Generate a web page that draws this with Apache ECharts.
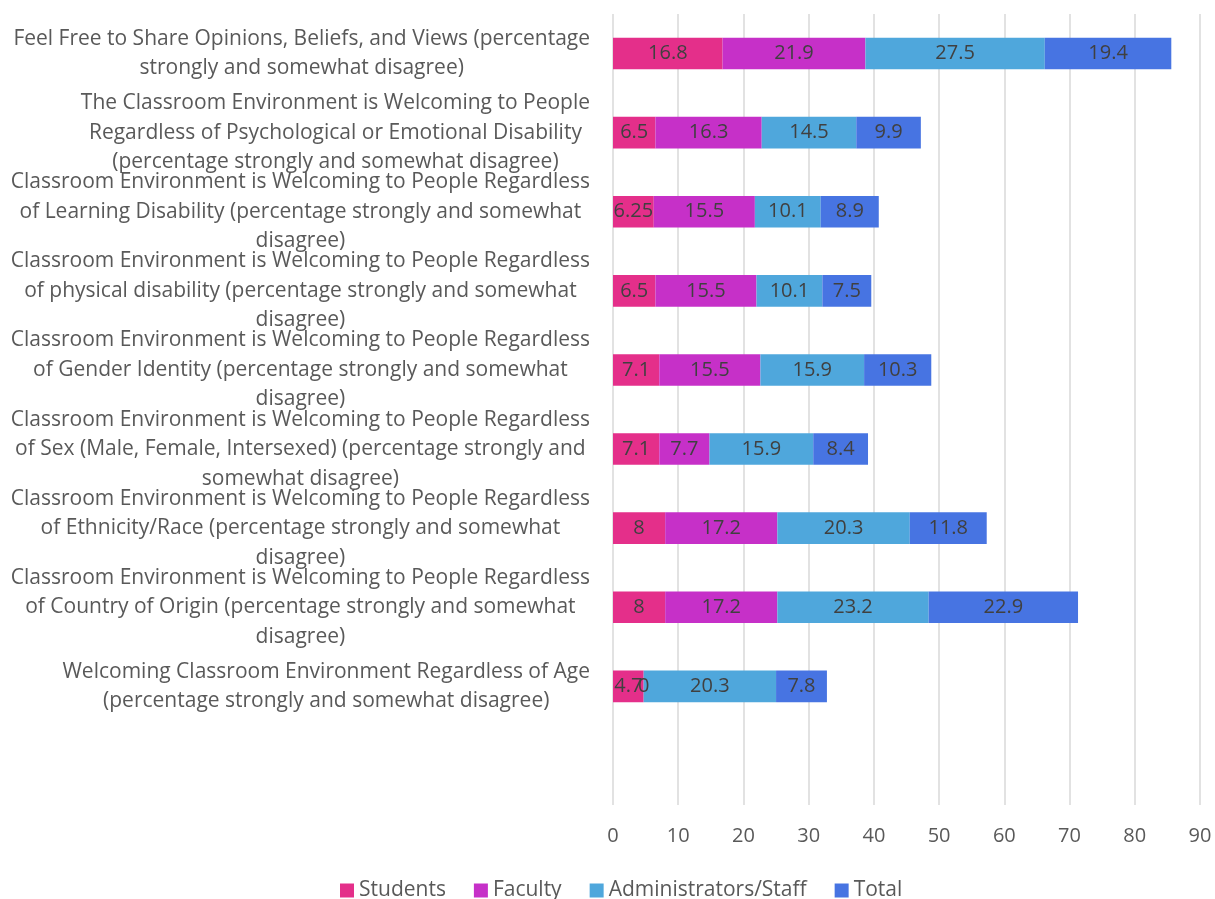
<!DOCTYPE html>
<html>
<head>
<meta charset="utf-8">
<style>
  html, body { margin: 0; padding: 0; background: #ffffff; }
  #chart { width: 1215px; height: 899px; }
</style>
<script src="https://cdn.jsdelivr.net/npm/echarts@6/dist/echarts.min.js"></script>
</head>
<body>
<div id="chart"></div>
<script>
// Survey items, listed top to bottom (last entry is an empty slot at the bottom of the axis)
const categories = [
  'Feel Free to Share Opinions, Beliefs, and Views (percentage\nstrongly and somewhat disagree)',
  'The Classroom Environment is Welcoming to People\nRegardless of Psychological or Emotional Disability\n(percentage strongly and somewhat disagree)',
  'Classroom Environment is Welcoming to People Regardless\nof Learning Disability (percentage strongly and somewhat\ndisagree)',
  'Classroom Environment is Welcoming to People Regardless\nof physical disability (percentage strongly and somewhat\ndisagree)',
  'Classroom Environment is Welcoming to People Regardless\nof Gender Identity (percentage strongly and somewhat\ndisagree)',
  'Classroom Environment is Welcoming to People Regardless\nof Sex (Male, Female, Intersexed) (percentage strongly and\nsomewhat disagree)',
  'Classroom Environment is Welcoming to People Regardless\nof Ethnicity/Race (percentage strongly and somewhat\ndisagree)',
  'Classroom Environment is Welcoming to People Regardless\nof Country of Origin (percentage strongly and somewhat\ndisagree)',
  'Welcoming Classroom Environment Regardless of Age\n(percentage strongly and somewhat disagree)',
  ''
];

const students = [16.8, 6.5, 6.25, 6.5, 7.1, 7.1, 8, 8, 4.7, null];
const faculty  = [21.9, 16.3, 15.5, 15.5, 15.5, 7.7, 17.2, 17.2, 0, null];
const admins   = [27.5, 14.5, 10.1, 10.1, 15.9, 15.9, 20.3, 23.2, 20.3, null];
const totals   = [19.4, 9.9, 8.9, 7.5, 10.3, 8.4, 11.8, 22.9, 7.8, null];

const xTicks = { min: 0, max: 90, interval: 10 };

const FONT = '"Open Sans", Lato, sans-serif';

function barSeries(name, data, color) {
  return {
    name: name,
    type: 'bar',
    stack: 'all',
    data: data,
    barWidth: '40%',
    itemStyle: { color: color },
    label: {
      show: true,
      position: 'inside',
      color: '#404040',
      fontFamily: FONT,
      fontSize: 20,
      formatter: p => (p.value === null || p.value === undefined) ? '' : String(p.value)
    },
    emphasis: { disabled: true }
  };
}

const chart = echarts.init(document.getElementById('chart'), null, { renderer: 'canvas' });

chart.setOption({
  animation: false,
  backgroundColor: '#ffffff',
  textStyle: { fontFamily: FONT },
  grid: { left: 613, right: 15, top: 14, bottom: 94, containLabel: false },
  xAxis: {
    type: 'value',
    min: xTicks.min,
    max: xTicks.max,
    interval: xTicks.interval,
    axisLine: { show: false },
    axisTick: { show: false },
    splitLine: { show: true, lineStyle: { color: '#d9d9d9', width: 1.5 } },
    axisLabel: { color: '#595959', fontSize: 20, fontFamily: FONT, margin: 21 }
  },
  yAxis: {
    type: 'category',
    inverse: true,
    data: categories,
    axisLine: { show: false },
    axisTick: { show: false },
    splitLine: { show: false },
    axisLabel: {
      align: 'right',
      margin: 23,
      interval: 0,
      formatter: v => v ? v.split('\n').map(l => '{c|' + l + '}').join('\n') : '',
      rich: {
        c: { align: 'center', color: '#595959', fontSize: 21, lineHeight: 29.5, fontFamily: FONT }
      }
    }
  },
  legend: {
    bottom: -7,
    left: 335,
    icon: 'rect',
    itemWidth: 14,
    itemHeight: 14,
    itemGap: 28,
    textStyle: { color: '#595959', fontSize: 21, fontFamily: FONT },
    data: ['Students', 'Faculty', 'Administrators/Staff', 'Total']
  },
  series: [
    barSeries('Students', students, '#E42F8A'),
    barSeries('Faculty', faculty, '#C630C8'),
    barSeries('Administrators/Staff', admins, '#4FA7DC'),
    barSeries('Total', totals, '#4774E2')
  ]
});
</script>
</body>
</html>
